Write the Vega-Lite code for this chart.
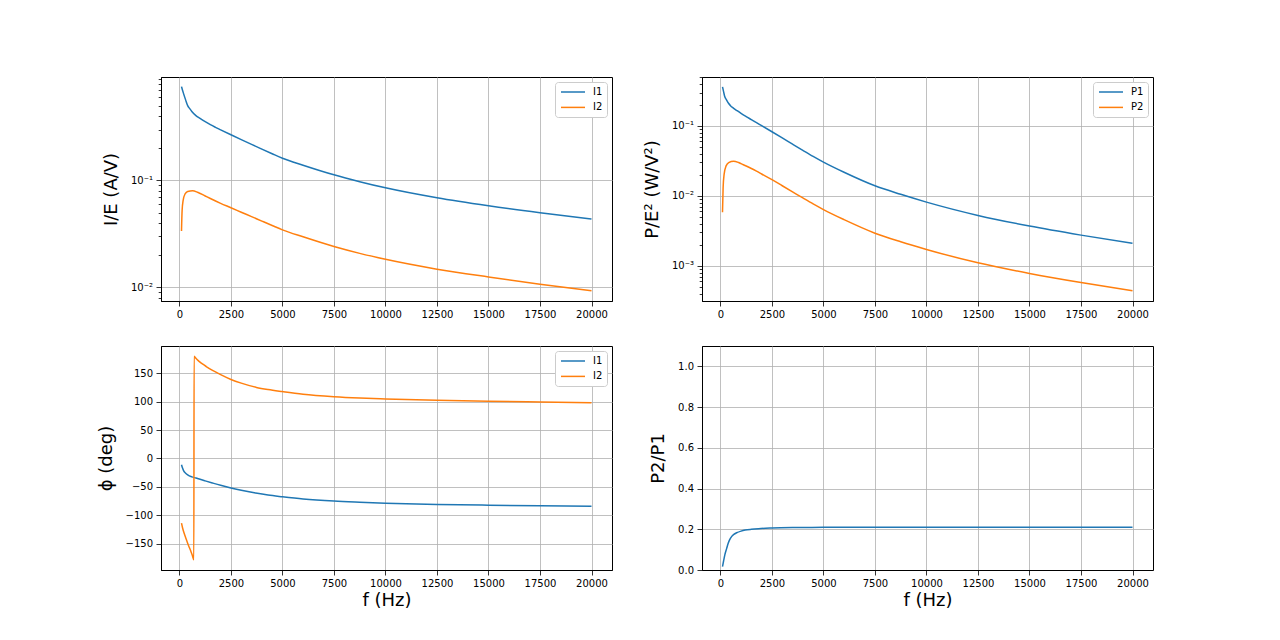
{
  "$schema": "https://vega.github.io/schema/vega-lite/v6.json",
  "autosize": {"type": "pad"},
  "padding": {"left": 96, "top": 71, "right": 0, "bottom": 0},
  "background": "white",
  "datasets": {
    "ie": [
      {"f":100,"s":"I1","v":0.756},{"f":150,"s":"I1","v":0.70},{"f":200,"s":"I1","v":0.65},{"f":300,"s":"I1","v":0.568},{"f":400,"s":"I1","v":0.502},{"f":500,"s":"I1","v":0.47},{"f":600,"s":"I1","v":0.443},{"f":800,"s":"I1","v":0.405},{"f":1000,"s":"I1","v":0.381},{"f":1250,"s":"I1","v":0.355},{"f":1500,"s":"I1","v":0.333},{"f":1750,"s":"I1","v":0.3145},{"f":2000,"s":"I1","v":0.298},{"f":2500,"s":"I1","v":0.2679},{"f":3000,"s":"I1","v":0.2412},{"f":3500,"s":"I1","v":0.2176},{"f":4000,"s":"I1","v":0.1966},{"f":4500,"s":"I1","v":0.178},{"f":5000,"s":"I1","v":0.1616},{"f":6000,"s":"I1","v":0.139},{"f":7500,"s":"I1","v":0.113},{"f":8750,"s":"I1","v":0.0975},{"f":10000,"s":"I1","v":0.0854},{"f":12500,"s":"I1","v":0.0689},{"f":15000,"s":"I1","v":0.058},{"f":17500,"s":"I1","v":0.0499},{"f":20000,"s":"I1","v":0.0435},
      {"f":100,"s":"I2","v":0.0336},{"f":130,"s":"I2","v":0.0525},{"f":180,"s":"I2","v":0.065},{"f":275,"s":"I2","v":0.075},{"f":400,"s":"I2","v":0.0789},{"f":640,"s":"I2","v":0.080},{"f":880,"s":"I2","v":0.0776},{"f":1250,"s":"I2","v":0.0716},{"f":1500,"s":"I2","v":0.0678},{"f":2000,"s":"I2","v":0.0611},{"f":2500,"s":"I2","v":0.0556},{"f":3000,"s":"I2","v":0.0505},{"f":3500,"s":"I2","v":0.0459},{"f":4000,"s":"I2","v":0.0417},{"f":4500,"s":"I2","v":0.0379},{"f":5000,"s":"I2","v":0.0345},{"f":6000,"s":"I2","v":0.0297},{"f":7500,"s":"I2","v":0.0241},{"f":8750,"s":"I2","v":0.0208},{"f":10000,"s":"I2","v":0.0183},{"f":12500,"s":"I2","v":0.0148},{"f":15000,"s":"I2","v":0.0125},{"f":17500,"s":"I2","v":0.0107},{"f":20000,"s":"I2","v":0.0093}
    ],
    "pe": [
      {"f":100,"s":"P1","v":0.361},{"f":150,"s":"P1","v":0.311},{"f":200,"s":"P1","v":0.268},{"f":300,"s":"P1","v":0.234},{"f":400,"s":"P1","v":0.209},{"f":500,"s":"P1","v":0.193},{"f":600,"s":"P1","v":0.182},{"f":800,"s":"P1","v":0.1655},{"f":1000,"s":"P1","v":0.151},{"f":1250,"s":"P1","v":0.136},{"f":1500,"s":"P1","v":0.123},{"f":1750,"s":"P1","v":0.1112},{"f":2000,"s":"P1","v":0.1007},{"f":2500,"s":"P1","v":0.0824},{"f":3000,"s":"P1","v":0.0673},{"f":3500,"s":"P1","v":0.0548},{"f":4000,"s":"P1","v":0.0447},{"f":4500,"s":"P1","v":0.0366},{"f":5000,"s":"P1","v":0.0303},{"f":6000,"s":"P1","v":0.0217},{"f":7500,"s":"P1","v":0.0139},{"f":8750,"s":"P1","v":0.0105},{"f":10000,"s":"P1","v":0.00812},{"f":12500,"s":"P1","v":0.00524},{"f":15000,"s":"P1","v":0.00369},{"f":17500,"s":"P1","v":0.00274},{"f":20000,"s":"P1","v":0.00209},
      {"f":100,"s":"P2","v":0.0058},{"f":130,"s":"P2","v":0.0131},{"f":180,"s":"P2","v":0.0204},{"f":275,"s":"P2","v":0.0268},{"f":400,"s":"P2","v":0.0299},{"f":640,"s":"P2","v":0.0313},{"f":880,"s":"P2","v":0.0299},{"f":1000,"s":"P2","v":0.0288},{"f":1250,"s":"P2","v":0.0267},{"f":1500,"s":"P2","v":0.0246},{"f":1750,"s":"P2","v":0.0225},{"f":2000,"s":"P2","v":0.0205},{"f":2500,"s":"P2","v":0.017},{"f":3000,"s":"P2","v":0.01393},{"f":3500,"s":"P2","v":0.0114},{"f":4000,"s":"P2","v":0.00932},{"f":4500,"s":"P2","v":0.00765},{"f":5000,"s":"P2","v":0.00635},{"f":6000,"s":"P2","v":0.00456},{"f":7500,"s":"P2","v":0.00292},{"f":8750,"s":"P2","v":0.0022},{"f":10000,"s":"P2","v":0.00171},{"f":12500,"s":"P2","v":0.0011},{"f":15000,"s":"P2","v":0.000775},{"f":17500,"s":"P2","v":0.000575},{"f":20000,"s":"P2","v":0.00044}
    ],
    "ph": [
      {"f":100,"s":"I1","v":-11},{"f":150,"s":"I1","v":-17},{"f":200,"s":"I1","v":-21.5},{"f":300,"s":"I1","v":-26},{"f":400,"s":"I1","v":-29},{"f":600,"s":"I1","v":-32.5},{"f":800,"s":"I1","v":-34.5},{"f":1000,"s":"I1","v":-36.8},{"f":1250,"s":"I1","v":-39.5},{"f":1600,"s":"I1","v":-43.2},{"f":2000,"s":"I1","v":-47.3},{"f":2500,"s":"I1","v":-52},{"f":3000,"s":"I1","v":-56},{"f":3700,"s":"I1","v":-61},{"f":4300,"s":"I1","v":-64.5},{"f":5000,"s":"I1","v":-67.5},{"f":6000,"s":"I1","v":-71.3},{"f":7500,"s":"I1","v":-75},{"f":8750,"s":"I1","v":-77},{"f":10000,"s":"I1","v":-78.7},{"f":12500,"s":"I1","v":-81},{"f":15000,"s":"I1","v":-82.3},{"f":17500,"s":"I1","v":-83.3},{"f":20000,"s":"I1","v":-84},
      {"f":100,"s":"I2","v":-114},{"f":150,"s":"I2","v":-122},{"f":213,"s":"I2","v":-130},{"f":300,"s":"I2","v":-139},{"f":377,"s":"I2","v":-147},{"f":450,"s":"I2","v":-154},{"f":541,"s":"I2","v":-162},{"f":620,"s":"I2","v":-170},{"f":700,"s":"I2","v":-178.5},{"f":710,"s":"I2","v":180},{"f":800,"s":"I2","v":176.2},{"f":900,"s":"I2","v":172.6},{"f":1000,"s":"I2","v":169.4},{"f":1115,"s":"I2","v":166.3},{"f":1300,"s":"I2","v":161.8},{"f":1606,"s":"I2","v":155},{"f":2000,"s":"I2","v":147.5},{"f":2500,"s":"I2","v":139},{"f":3000,"s":"I2","v":132.5},{"f":3737,"s":"I2","v":125},{"f":4300,"s":"I2","v":121.2},{"f":5000,"s":"I2","v":117.6},{"f":6000,"s":"I2","v":113},{"f":7500,"s":"I2","v":108.7},{"f":8750,"s":"I2","v":106.3},{"f":10000,"s":"I2","v":104.6},{"f":12500,"s":"I2","v":102.2},{"f":15000,"s":"I2","v":100.5},{"f":17500,"s":"I2","v":99.3},{"f":20000,"s":"I2","v":98.2}
    ],
    "rt": [
      {"f":100,"v":0.017},{"f":150,"v":0.043},{"f":213,"v":0.074},{"f":300,"v":0.105},{"f":377,"v":0.131},{"f":450,"v":0.149},{"f":541,"v":0.164},{"f":650,"v":0.175},{"f":787,"v":0.183},{"f":1000,"v":0.191},{"f":1200,"v":0.196},{"f":1500,"v":0.2},{"f":1850,"v":0.203},{"f":2500,"v":0.206},{"f":3500,"v":0.2083},{"f":5000,"v":0.2095},{"f":7500,"v":0.21},{"f":10000,"v":0.21},{"f":15000,"v":0.21},{"f":20000,"v":0.21}
    ]
  },
  "columns": 2,
  "spacing": {"row": 45, "column": 90},
  "bounds": "flush",
  "resolve": {
    "scale": {"x": "independent", "y": "independent", "color": "independent"},
    "legend": {"color": "independent"},
    "axis": {"x": "independent", "y": "independent"}
  },
  "concat": [
    {
      "width": 451, "height": 224,
      "data": {"name": "ie"},
      "mark": {"type": "line", "strokeWidth": 1.5, "interpolate": "monotone"},
      "encoding": {
        "x": {"field": "f", "type": "quantitative",
          "scale": {"domain": [-895, 20995], "nice": false, "zero": false},
          "axis": {"title": null, "values": [0,2500,5000,7500,10000,12500,15000,17500,20000], "format": "d"}},
        "y": {"field": "v", "type": "quantitative",
          "scale": {"type": "log", "domain": [0.00745, 0.93], "nice": false},
          "axis": {"title": "I/E (A/V)",
            "values": [0.008,0.009,0.01,0.02,0.03,0.04,0.05,0.06,0.07,0.08,0.09,0.1,0.2,0.3,0.4,0.5,0.6,0.7,0.8,0.9],
            "labelExpr": "datum.value === 0.1 ? '10\u207b\u00b9' : datum.value === 0.01 ? '10\u207b\u00b2' : ''",
            "tickSize": {"condition": {"test": "datum.value === 0.1 || datum.value === 0.01", "value": 5}, "value": 2.8},
            "gridOpacity": {"condition": {"test": "datum.value === 0.1 || datum.value === 0.01", "value": 1}, "value": 0}}},
        "color": {"field": "s", "type": "nominal", "scale": {"domain": ["I1","I2"], "range": ["#1f77b4","#ff7f0e"]}, "legend": {"title": null}}
      }
    },
    {
      "width": 451, "height": 224,
      "data": {"name": "pe"},
      "mark": {"type": "line", "strokeWidth": 1.5, "interpolate": "monotone"},
      "encoding": {
        "x": {"field": "f", "type": "quantitative",
          "scale": {"domain": [-895, 20995], "nice": false, "zero": false},
          "axis": {"title": null, "values": [0,2500,5000,7500,10000,12500,15000,17500,20000], "format": "d"}},
        "y": {"field": "v", "type": "quantitative",
          "scale": {"type": "log", "domain": [0.000313, 0.5], "nice": false},
          "axis": {"title": "P/E\u00b2 (W/V\u00b2)",
            "values": [0.0004,0.0005,0.0006,0.0007,0.0008,0.0009,0.001,0.002,0.003,0.004,0.005,0.006,0.007,0.008,0.009,0.01,0.02,0.03,0.04,0.05,0.06,0.07,0.08,0.09,0.1,0.2,0.3,0.4,0.5],
            "labelExpr": "datum.value === 0.1 ? '10\u207b\u00b9' : datum.value === 0.01 ? '10\u207b\u00b2' : datum.value === 0.001 ? '10\u207b\u00b3' : ''",
            "tickSize": {"condition": {"test": "datum.value === 0.1 || datum.value === 0.01 || datum.value === 0.001", "value": 5}, "value": 2.8},
            "gridOpacity": {"condition": {"test": "datum.value === 0.1 || datum.value === 0.01 || datum.value === 0.001", "value": 1}, "value": 0}}},
        "color": {"field": "s", "type": "nominal", "scale": {"domain": ["P1","P2"], "range": ["#1f77b4","#ff7f0e"]}, "legend": {"title": null}}
      }
    },
    {
      "width": 451, "height": 224,
      "data": {"name": "ph"},
      "mark": {"type": "line", "strokeWidth": 1.5, "interpolate": "monotone"},
      "encoding": {
        "x": {"field": "f", "type": "quantitative",
          "scale": {"domain": [-895, 20995], "nice": false, "zero": false},
          "axis": {"title": "f (Hz)", "values": [0,2500,5000,7500,10000,12500,15000,17500,20000], "format": "d"}},
        "y": {"field": "v", "type": "quantitative",
          "scale": {"domain": [-196.4, 197.9], "nice": false, "zero": false},
          "axis": {"title": "\u03d5 (deg)", "values": [-150,-100,-50,0,50,100,150]}},
        "color": {"field": "s", "type": "nominal", "scale": {"domain": ["I1","I2"], "range": ["#1f77b4","#ff7f0e"]}, "legend": {"title": null}}
      }
    },
    {
      "width": 451, "height": 224,
      "data": {"name": "rt"},
      "mark": {"type": "line", "strokeWidth": 1.5, "interpolate": "monotone", "color": "#1f77b4"},
      "encoding": {
        "x": {"field": "f", "type": "quantitative",
          "scale": {"domain": [-895, 20995], "nice": false, "zero": false},
          "axis": {"title": "f (Hz)", "values": [0,2500,5000,7500,10000,12500,15000,17500,20000], "format": "d"}},
        "y": {"field": "v", "type": "quantitative",
          "scale": {"domain": [0, 1.1], "nice": false},
          "axis": {"title": "P2/P1", "values": [0,0.2,0.4,0.6,0.8,1.0], "format": ".1f"}}
      }
    }
  ],
  "config": {
    "font": "DejaVu Sans",
    "view": {"stroke": "#000000", "strokeWidth": 1},
    "axis": {
      "labelFont": "DejaVu Sans", "labelFontSize": 10, "labelColor": "#000000",
      "titleFont": "DejaVu Sans", "titleFontSize": 18, "titleFontWeight": "normal", "titleColor": "#000000",
      "tickColor": "#000000", "domainColor": "#000000", "tickSize": 5, "tickWidth": 0.8,
      "labelPadding": 3.5, "grid": true, "gridColor": "#b0b0b0", "gridWidth": 0.8,
      "labelOverlap": false, "labelFlush": false, "labelBound": false
    },
    "axisY": {"titlePadding": 10},
    "axisX": {"titlePadding": 3},
    "legend": {
      "orient": "top-right", "offset": 5, "padding": 4,
      "strokeColor": "#cccccc", "fillColor": "#ffffff", "cornerRadius": 3,
      "labelFont": "DejaVu Sans", "labelFontSize": 10, "labelColor": "#000000",
      "symbolType": "M-2.4,0L2.4,0", "symbolSize": 100, "symbolStrokeWidth": 1.5, "symbolOffset": 8,
      "rowPadding": 4.4, "labelOffset": 14
    }
  }
}
